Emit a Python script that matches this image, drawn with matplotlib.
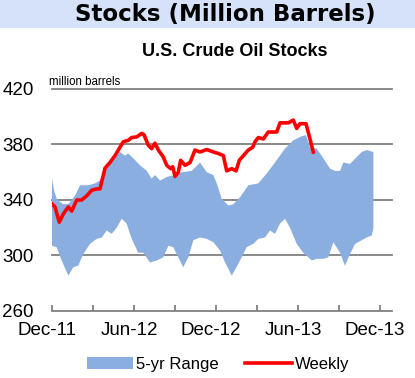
import numpy as np
import matplotlib.pyplot as plt
import matplotlib.transforms as mtransforms
from matplotlib.patches import Rectangle, Patch
from matplotlib.lines import Line2D

# x values are months since Dec-2011
weekly_x = [0.02, 0.22, 0.53, 0.83, 1.19, 1.44, 1.81, 2.17, 2.54, 2.90, 3.27, 3.51,
            3.88, 4.24, 4.61, 4.97, 5.22, 5.58, 5.83, 6.20, 6.56, 6.73, 7.04, 7.29,
            7.53, 7.78, 8.14, 8.39, 8.68, 8.83, 9.00, 9.24, 9.41, 9.73, 10.10, 10.46,
            10.83, 11.32, 11.80, 12.17, 12.53, 12.78, 13.15, 13.46, 13.70, 14.00,
            14.36, 14.68, 14.85, 15.09, 15.46, 15.82, 16.44, 16.68, 17.04, 17.29,
            17.65, 17.90, 18.14, 18.58, 18.87, 19.11]
weekly_y = [337, 335, 324, 330, 335, 332, 340, 340, 343, 347, 348, 348,
            363, 367, 372, 378, 382, 383, 385, 385.5, 388, 387, 379.5, 377,
            381, 376, 371, 365, 362.6, 364, 357, 360, 368.6, 365, 367, 376,
            374.6, 376.4, 374.6, 373.5, 372, 361, 362.6, 361, 368.6, 372,
            376, 378, 382, 385, 384, 389, 389, 395.6, 395.6, 395.6,
            397.6, 391.6, 395, 395, 384, 374.6]

upper_x = [0.0, 0.15, 0.34, 0.59, 0.83, 1.19, 1.68, 2.05, 2.66, 3.15, 3.51, 3.88,
           4.37, 4.97, 5.34, 5.58, 5.95, 6.44, 6.93, 7.29, 7.53, 7.90, 8.39, 8.87,
           9.49, 10.22, 10.83, 11.32, 11.80, 12.05, 12.41, 12.90, 13.27, 13.76,
           14.36, 15.09, 15.70, 16.31, 17.04, 17.65, 18.27, 18.58, 18.87, 19.36,
           19.85, 20.34, 20.70, 21.07, 21.31, 21.80, 22.29, 22.66, 23.02, 23.51]
upper_y = [355.4, 347, 341, 338.5, 337, 337, 343, 350.6, 350.6, 352, 354, 361,
           367, 374.6, 372, 373.5, 370, 365, 361, 355.4, 358, 354, 356.6, 357.8,
           360, 361, 367, 360, 358, 352, 341, 336, 337, 342,
           350.6, 352, 359, 367, 377, 383, 386, 386.7, 378, 377,
           370, 362.6, 361, 361, 367, 366, 371, 374.6, 376, 374.6]

lower_x = [0.0, 0.34, 0.71, 1.19, 1.56, 1.92, 2.29, 2.78, 3.27, 3.64, 4.00, 4.37,
           4.73, 5.10, 5.46, 5.83, 6.31, 6.68, 7.17, 7.66, 8.14, 8.51, 8.87, 9.24,
           9.60, 9.97, 10.34, 10.83, 11.32, 11.80, 12.29, 12.66, 13.15, 13.63,
           14.24, 14.73, 15.09, 15.58, 15.95, 16.31, 16.68, 17.04, 17.41, 17.90,
           18.38, 19.00, 19.36, 19.85, 20.21, 20.58, 21.07, 21.43, 21.80, 22.17,
           22.66, 23.02, 23.39, 23.51]
lower_y = [307, 306, 296.4, 285.5, 291.5, 292.7, 301, 308.4, 312, 313, 318, 315.6,
           320, 326.5, 323, 312, 302, 302, 295, 296.4, 298.7, 307, 306, 298.7,
           291.5, 298.7, 311, 313, 312, 309.6, 303.6, 295, 285.5, 294,
           306, 308.4, 312, 313, 318, 315.6, 323, 326.5, 320, 308.4,
           302, 296.4, 297.6, 297.6, 298.7, 309.6, 302, 292.7, 301, 308.4,
           311, 313, 314.4, 320]

tick_pos = [0, 3, 6, 9, 12, 15, 18, 21, 24]
tick_labels = ["Dec-11", "", "Jun-12", "", "Dec-12", "", "Jun-13", "", "Dec-13"]
y_ticks = [260, 300, 340, 380, 420]

blue = "#8aaee0"
red = "#ff0000"
grey = "#808080"

fig = plt.figure(figsize=(4.15, 3.78), dpi=100)

# title banner
fig.patches.append(Rectangle((0, 1 - 27.5 / 378), 1, 27.5 / 378, transform=fig.transFigure,
                             facecolor="#d5e2fa", edgecolor="none", zorder=0))
fig.text(0.543, 1 - 14.5 / 378, "Stocks (Million Barrels)", ha="center", va="center",
         fontsize=16.5, fontweight="bold", family="DejaVu Sans")
fig.text(0.566, 1 - 52 / 378, "U.S. Crude Oil Stocks", ha="center", va="center",
         fontsize=13, fontweight="bold", family="Liberation Sans")

ax = fig.add_axes([52 / 415, 1 - 311 / 378, 340 / 415, 222 / 378])
ax.fill(np.concatenate([upper_x, lower_x[::-1]]),
        np.concatenate([upper_y, lower_y[::-1]]),
        color=blue, linewidth=0, zorder=2)
ax.plot(weekly_x, weekly_y, color=red, linewidth=2.6, zorder=3)

ax.set_xlim(0, 24.87)
ax.set_ylim(260, 420)
ax.set_yticks(y_ticks)
ax.set_xticks(tick_pos)
ax.set_xticklabels(tick_labels, family="Liberation Sans", fontsize=13.5)
ax.set_yticklabels([str(v) for v in y_ticks], family="Liberation Sans", fontsize=13.5)
for v in y_ticks[1:]:
    ax.axhline(v, color=grey, linewidth=1.3, zorder=1, clip_on=False)
for s in ["top", "right", "left"]:
    ax.spines[s].set_visible(False)
ax.spines["bottom"].set_color(grey)
ax.spines["bottom"].set_linewidth(1.3)
ax.tick_params(axis="x", direction="in", length=4, color=grey, width=1.3, pad=8)
ax.tick_params(axis="y", length=0, pad=13)
shift = mtransforms.ScaledTranslation(-5 / 100, 0, fig.dpi_scale_trans)
for lbl in ax.get_xticklabels():
    lbl.set_transform(lbl.get_transform() + shift)

ax.text(-0.2, 421, "million barrels", ha="left", va="bottom",
        fontsize=8.3, family="Liberation Sans")

handles = [Patch(facecolor=blue, edgecolor="none"),
           Line2D([0], [0], color=red, linewidth=2.6)]
fig.legend(handles, ["5-yr Range", "Weekly"], loc="center", ncol=2,
           bbox_to_anchor=(0.525, 1 - 364 / 378), frameon=False,
           prop={"family": "Liberation Sans", "size": 12},
           handlelength=2.8, handletextpad=0.15, columnspacing=1.6)

fig.savefig("out.png", dpi=100)
